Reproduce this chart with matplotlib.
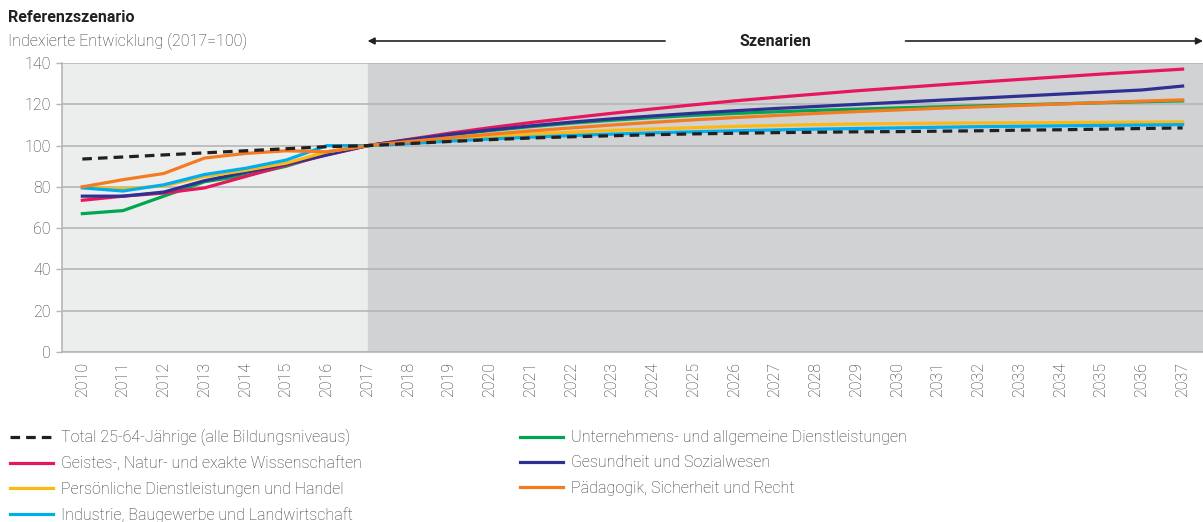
import numpy as np
import matplotlib.pyplot as plt
import matplotlib.transforms as mtransforms
from matplotlib.lines import Line2D

plt.rcParams['font.family'] = ['Roboto', 'DejaVu Sans']
plt.rcParams['font.weight'] = 'light'

# years and index values (2017 = 100)
years = list(range(2010, 2038))

total = [93.5, 94.5, 95.5, 96.5, 97.5, 98.5, 99.5, 100,
         101.0, 102.0, 102.9, 103.7, 104.3, 104.8, 105.3, 105.7, 106.0, 106.3,
         106.5, 106.7, 106.8, 107.0, 107.2, 107.5, 107.7, 108.0, 108.3, 108.6]
geistes = [73.5, 75.5, 77.0, 79.5, 85.0, 90.5, 95.5, 100,
           103.0, 106.0, 108.7, 111.2, 113.5, 115.7, 117.8, 119.8, 121.7, 123.4,
           125.0, 126.6, 128.0, 129.4, 130.8, 132.1, 133.4, 134.7, 135.9, 137.1]
gesundheit = [75.5, 75.5, 77.5, 83.0, 87.0, 91.0, 95.5, 100,
              102.8, 105.4, 107.6, 109.6, 111.4, 113.0, 114.4, 115.7, 116.9, 118.0,
              119.0, 120.0, 121.0, 122.0, 123.0, 124.0, 125.0, 126.0, 127.0, 128.9]
unternehmen = [67.0, 68.5, 75.5, 82.5, 85.5, 90.0, 96.0, 100,
               102.7, 105.2, 107.3, 109.2, 110.9, 112.3, 113.6, 114.7, 115.6, 116.4,
               117.1, 117.7, 118.3, 118.8, 119.3, 119.8, 120.3, 120.8, 121.3, 121.7]
paedagogik = [80.0, 83.5, 86.5, 94.0, 96.2, 97.5, 97.0, 100,
              102.0, 103.8, 105.5, 107.1, 108.6, 110.0, 111.3, 112.5, 113.6, 114.6,
              115.6, 116.5, 117.3, 118.1, 118.8, 119.5, 120.2, 120.9, 121.6, 122.2]
persoenlich = [80.0, 79.0, 80.5, 85.0, 88.0, 91.5, 97.0, 100,
               101.5, 103.0, 104.3, 105.5, 106.5, 107.4, 108.1, 108.7, 109.3, 109.8,
               110.2, 110.5, 110.7, 110.9, 111.0, 111.1, 111.2, 111.3, 111.4, 111.5]
industrie = [79.5, 78.0, 81.0, 86.0, 89.0, 93.0, 100.0, 100,
             101.0, 102.2, 103.2, 104.1, 104.9, 105.6, 106.2, 106.7, 107.2, 107.6,
             108.0, 108.3, 108.6, 108.9, 109.2, 109.4, 109.6, 109.8, 110.0, 110.2]

labels = ['Total 25-64-Jährige (alle Bildungsniveaus)',
          'Geistes-, Natur- und exakte Wissenschaften',
          'Persönliche Dienstleistungen und Handel',
          'Industrie, Baugewerbe und Landwirtschaft',
          'Unternehmens- und allgemeine Dienstleistungen',
          'Gesundheit und Sozialwesen',
          'Pädagogik, Sicherheit und Recht']
colors = ['#231F20', '#E8175D', '#FDB913', '#00AEEF', '#00A651', '#2E3192', '#F47B20']
txt = '#333333'

fig = plt.figure(figsize=(12.03, 5.22), dpi=100)
ax = fig.add_axes([0.0515, 0.326, 0.9485, 0.553])
ax.set_facecolor('#ECEDED')
ax.axvspan(2017, 2037.5, color='#D1D2D4', zorder=0)

lw = 2.3
dash = (0, (3, 1.9))
ax.plot(years, unternehmen, color=colors[4], lw=lw, zorder=3)
ax.plot(years, geistes, color=colors[1], lw=lw, zorder=3)
ax.plot(years, gesundheit, color=colors[5], lw=lw, zorder=3)
ax.plot(years, persoenlich, color=colors[2], lw=lw, zorder=3)
ax.plot(years, industrie, color=colors[3], lw=lw, zorder=3)
ax.plot(years, paedagogik, color=colors[6], lw=lw, zorder=3)
ax.plot(years, total, color=colors[0], lw=lw, ls=dash, zorder=4)

ax.set_xlim(2009.5, 2037.5)
ax.set_ylim(0, 140)
ax.set_yticks(range(0, 141, 20))
ax.set_xticks(years)
ax.set_xticklabels([str(y) for y in years], rotation=90, fontsize=11.5, color=txt)
ax.tick_params(axis='x', length=0, pad=7)
ax.tick_params(axis='y', length=4, width=1, color='#B5B6B8', labelsize=11.5,
               labelcolor=txt, pad=4)
ax.grid(axis='y', color='#B5B6B8', lw=1.2, zorder=1)
ax.set_axisbelow(True)
for s in ['top', 'right']:
    ax.spines[s].set_visible(False)
for s in ['left', 'bottom']:
    ax.spines[s].set_color('#B5B6B8')
    ax.spines[s].set_linewidth(1.2)

# titles
fig.text(8 / 1203, 1 - 18 / 522, 'Referenzszenario', fontsize=11.5, fontweight='bold',
         va='center', ha='left', color='#222222')
fig.text(8 / 1203, 1 - 41 / 522, 'Indexierte Entwicklung (2017=100)', fontsize=11.5,
         va='center', ha='left', color=txt)

# Szenarien arrows
trans = mtransforms.blended_transform_factory(ax.transData, fig.transFigure)
ya = 1 - 41 / 522
ax.annotate('', xy=(2017, ya), xytext=(2024.3, ya), xycoords=trans, textcoords=trans,
            arrowprops=dict(arrowstyle='-|>', color='#222222', lw=1.2,
                            mutation_scale=10, shrinkA=0, shrinkB=0),
            annotation_clip=False)
ax.annotate('', xy=(2037.5, ya), xytext=(2030.2, ya), xycoords=trans, textcoords=trans,
            arrowprops=dict(arrowstyle='-|>', color='#222222', lw=1.2,
                            mutation_scale=10, shrinkA=0, shrinkB=0),
            annotation_clip=False)
ax.text(2027.0, ya, 'Szenarien', transform=trans, ha='center', va='center',
        fontsize=11.5, fontweight='bold', color='#222222')

# legend in two columns (filled column by column)
handles = []
for i, c in enumerate(colors):
    if i == 0:
        handles.append(Line2D([], [], color=c, lw=2.3, ls=dash))
    else:
        handles.append(Line2D([], [], color=c, lw=2.3))

fig.legend(handles, labels, loc='upper left', bbox_to_anchor=(10 / 1203, 1 - 429 / 522),
           ncol=2, frameon=False, fontsize=11.5, handlelength=2.7, handletextpad=0.5,
           labelspacing=0.64, columnspacing=9.9, borderaxespad=0, borderpad=0,
           labelcolor=txt)

fig.savefig('out.png', dpi=100)
